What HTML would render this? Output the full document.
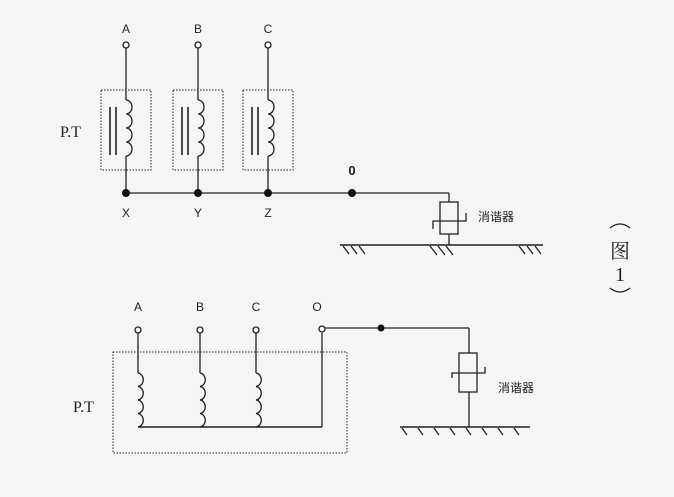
<!DOCTYPE html>
<html><head><meta charset="utf-8"><style>
body{margin:0;background:#f4f5f7;}
svg{display:block}
text{font-family:"Liberation Sans",sans-serif;fill:#222}
.s{font-family:"Liberation Serif","Noto Serif CJK SC",serif}
.c{font-family:"Liberation Sans","Noto Sans CJK SC",sans-serif}
</style></head><body>
<svg width="674" height="497" viewBox="0 0 674 497" xmlns="http://www.w3.org/2000/svg">
<rect width="674" height="497" fill="#f4f5f7"/>
<g stroke="#222" fill="none" stroke-width="1.3">
<!-- top phases -->
<g id="ph">
<line x1="126" y1="48" x2="126" y2="100"/>
<path d="M126 100 a6 7 0 0 1 0 14 a6 7 0 0 1 0 14 a6 7 0 0 1 0 14 a6 7 0 0 1 0 14"/>
<line x1="126" y1="156" x2="126" y2="193"/>
<line x1="110" y1="107" x2="110" y2="155" stroke-width="1.6"/>
<line x1="116" y1="107" x2="116" y2="155" stroke-width="1.6"/>
<rect x="101" y="90" width="50" height="80" stroke-dasharray="1.5 1.5" stroke-width="1"/>
<circle cx="126" cy="45" r="3" fill="#fff"/>
</g>
<use href="#ph" x="72"/>
<use href="#ph" x="142"/>
<line x1="126" y1="193" x2="449" y2="193"/>
<line x1="449" y1="193" x2="449" y2="202"/>
<rect x="440" y="202" width="18" height="32"/>
<path d="M433 229 V221 H466 V213"/>
<line x1="449" y1="234" x2="449" y2="245"/>
<line x1="340" y1="245" x2="543" y2="245" stroke-width="1.6"/>
<path d="M343 246 l6 8 M351 246 l6 8 M359 246 l6 8 M430 246 l7 9 M438 246 l7 9 M446 246 l7 9 M519 246 l6 8 M527 246 l6 8 M535 246 l6 8"/>
<!-- bottom -->
<rect x="113" y="352" width="234" height="101" stroke-dasharray="1.5 1.5" stroke-width="1"/>
<g id="cb">
<line x1="138" y1="333" x2="138" y2="373"/>
<path d="M138 373 a6 6.8 0 0 1 0 13.5 a6 6.8 0 0 1 0 13.5 a6 6.8 0 0 1 0 13.5 a6 6.8 0 0 1 0 13.5"/>
<circle cx="138" cy="330" r="3" fill="#fff"/>
</g>
<use href="#cb" x="62"/>
<use href="#cb" x="118"/>
<line x1="138" y1="427" x2="322" y2="427" stroke-width="1.6"/>
<line x1="322" y1="333" x2="322" y2="427"/>
<line x1="325" y1="328" x2="469" y2="328"/>
<circle cx="322" cy="329" r="3" fill="#fff"/>
<line x1="469" y1="328" x2="469" y2="353"/>
<rect x="459" y="353" width="18" height="39"/>
<path d="M452 378 V373 H485 V367"/>
<line x1="469" y1="392" x2="469" y2="427"/>
<line x1="400" y1="427" x2="530" y2="427" stroke-width="1.6"/>
<path d="M402 428 l5 7 M418 428 l5 7 M434 428 l5 7 M450 428 l5 7 M466 428 l5 7 M482 428 l5 7 M498 428 l5 7 M514 428 l5 7"/>
<path d="M610 228 q10 -8 20 0 M610 288 q10 8 20 0"/>
</g>
<g fill="#111">
<circle cx="126" cy="193" r="4"/><circle cx="198" cy="193" r="4"/><circle cx="268" cy="193" r="4"/><circle cx="352" cy="193" r="4"/>
<circle cx="381" cy="328" r="3.5"/>
</g>
<g font-size="12" text-anchor="middle">
<text x="126" y="33">A</text><text x="198" y="33">B</text><text x="268" y="33">C</text>
<text x="126" y="217">X</text><text x="198" y="217">Y</text><text x="268" y="217">Z</text>
<text x="352" y="175" font-weight="bold" font-size="13">0</text>
<text x="138" y="311">A</text><text x="200" y="311">B</text><text x="256" y="311">C</text><text x="317" y="311">O</text>
</g>
<text class="s" x="60" y="137" font-size="16">P.T</text>
<text class="s" x="73" y="412" font-size="16">P.T</text>
<text class="c" x="478" y="221" font-size="12">消谐器</text>
<text class="c" x="498" y="392" font-size="12">消谐器</text>
<text class="s" x="620" y="258" font-size="20" text-anchor="middle" style="font-family:'Noto Serif CJK SC',serif">图</text>
<text class="s" x="620" y="281" font-size="20" text-anchor="middle">1</text>
</svg>
</body></html>
